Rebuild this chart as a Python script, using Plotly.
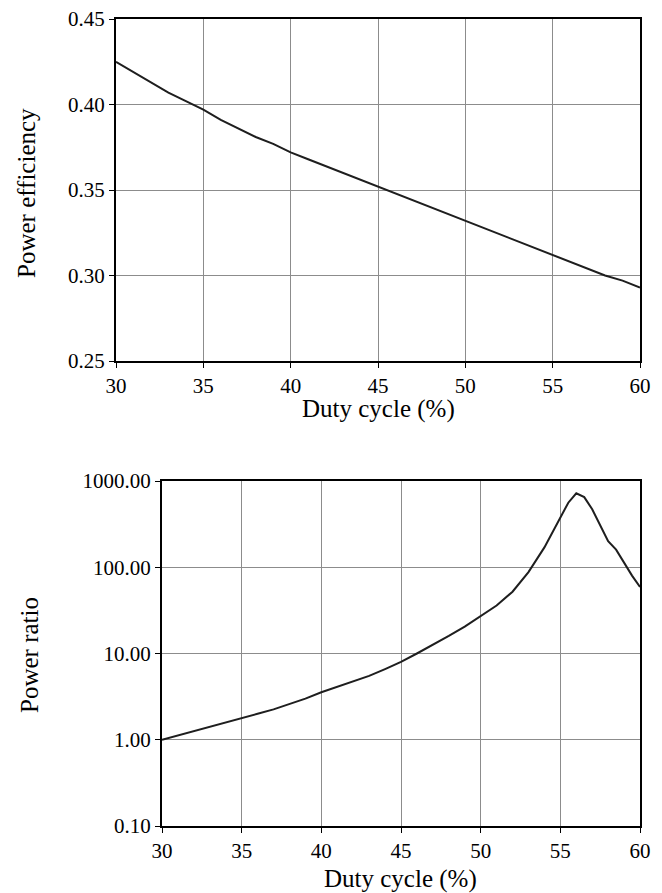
import plotly.graph_objects as go

# Top chart: power efficiency vs duty cycle
duty_eff = [30, 31, 32, 33, 34, 35, 36, 37, 38, 39, 40, 41, 42, 43, 44, 45,
            46, 47, 48, 49, 50, 51, 52, 53, 54, 55, 56, 57, 58, 59, 60]
efficiency = [0.425, 0.419, 0.413, 0.407, 0.402, 0.397, 0.391, 0.386, 0.381, 0.377,
              0.372, 0.368, 0.364, 0.360, 0.356, 0.352, 0.348, 0.344, 0.340, 0.336,
              0.332, 0.328, 0.324, 0.320, 0.316, 0.312, 0.308, 0.304, 0.300, 0.297, 0.293]

# Bottom chart: power ratio vs duty cycle (log scale)
duty_ratio = [30, 31, 32, 33, 34, 35, 36, 37, 38, 39, 40, 41, 42, 43, 44, 45,
              46, 47, 48, 49, 50, 51, 52, 53, 54, 55, 55.5, 56, 56.5, 57, 57.5,
              58, 58.5, 59, 59.5, 60]
ratio = [1.00, 1.12, 1.25, 1.40, 1.58, 1.78, 2.00, 2.25, 2.60, 3.00, 3.55, 4.10,
         4.75, 5.50, 6.60, 8.00, 10.0, 12.6, 16.0, 20.5, 27.0, 36.0, 52.0, 88.0,
         170.0, 370.0, 560.0, 720.0, 650.0, 470.0, 300.0, 200.0, 160.0, 112.0, 80.0, 59.0]

x_ticks = [30, 35, 40, 45, 50, 55, 60]
eff_ticks = [0.25, 0.30, 0.35, 0.40, 0.45]
ratio_ticks = [0.1, 1, 10, 100, 1000]

FONT = "Liberation Serif"
W, H = 662, 893

fig = go.Figure()
fig.add_trace(go.Scatter(x=duty_eff, y=efficiency, mode="lines",
                         line=dict(color="#1e1e1e", width=2), xaxis="x", yaxis="y",
                         showlegend=False))
fig.add_trace(go.Scatter(x=duty_ratio, y=ratio, mode="lines",
                         line=dict(color="#1e1e1e", width=2), xaxis="x2", yaxis="y2",
                         showlegend=False))

axis_common = dict(showline=True, linecolor="black", linewidth=2, mirror=True,
                   showgrid=True, gridcolor="#8c8c8c", gridwidth=1,
                   ticks="outside", ticklen=5, tickcolor="black", tickwidth=1,
                   tickfont=dict(family=FONT, size=21, color="black"),
                   zeroline=False, automargin=False)

fig.update_layout(
    width=W, height=H,
    margin=dict(l=0, r=0, t=0, b=0, pad=0, autoexpand=False),
    font=dict(family=FONT, size=21, color="black"),
    paper_bgcolor="white", plot_bgcolor="white",
    xaxis=dict(domain=[116 / W, 640 / W], anchor="y", range=[30, 60],
               tickvals=x_ticks, **axis_common),
    yaxis=dict(domain=[1 - 361 / H, 1 - 19 / H], anchor="x", range=[0.25, 0.45],
               tickvals=eff_ticks, tickformat=".2f", **axis_common),
    xaxis2=dict(domain=[162 / W, 640 / W], anchor="y2", range=[30, 60],
                tickvals=x_ticks, **axis_common),
    yaxis2=dict(domain=[1 - 826 / H, 1 - 481 / H], anchor="x2", type="log",
                range=[-1, 3], tickvals=ratio_ticks, tickformat=".2f", **axis_common),
)

title_font = dict(family=FONT, size=25, color="black")
fig.add_annotation(text="Duty cycle (%)", xref="paper", yref="paper",
                   x=378 / W, y=1 - 409 / H, showarrow=False, font=title_font,
                   xanchor="center", yanchor="middle")
fig.add_annotation(text="Power efficiency", xref="paper", yref="paper",
                   x=26 / W, y=1 - 193 / H, showarrow=False, font=title_font,
                   textangle=-90, xanchor="center", yanchor="middle")
fig.add_annotation(text="Duty cycle (%)", xref="paper", yref="paper",
                   x=400 / W, y=1 - 879 / H, showarrow=False, font=title_font,
                   xanchor="center", yanchor="middle")
fig.add_annotation(text="Power ratio", xref="paper", yref="paper",
                   x=29 / W, y=1 - 655 / H, showarrow=False, font=title_font,
                   textangle=-90, xanchor="center", yanchor="middle")

fig.write_html("out.html")
